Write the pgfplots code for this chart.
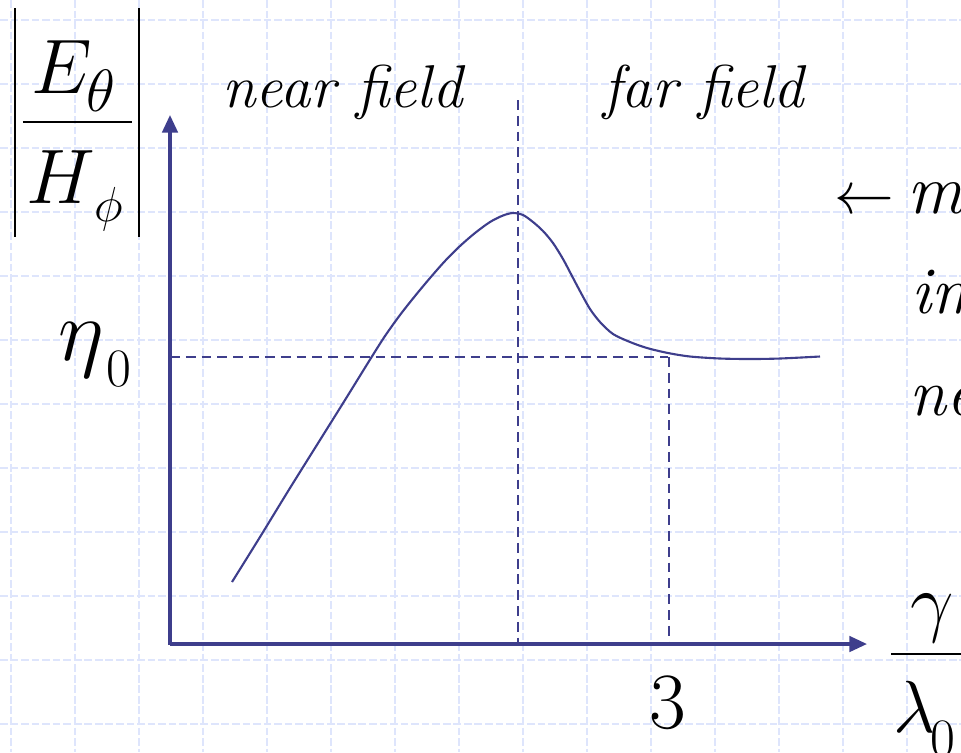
\RequirePackage{fix-cm}
\documentclass[border=0pt]{standalone}
\usepackage{pgfplots}
\pgfplotsset{compat=1.18}
\usetikzlibrary{arrows.meta}
\definecolor{ink}{RGB}{62,62,140}
\definecolor{gridblue}{RGB}{222,229,252}
\newcommand{\fs}[1]{\fontsize{#1}{#1}\selectfont}

\begin{document}
\begin{tikzpicture}
\begin{axis}[
  scale only axis, width=9.61cm, height=7.52cm,
  xmin=0, xmax=961, ymin=0, ymax=752, y dir=reverse,
  axis line style={draw=none}, tick style={draw=none},
  xtick={11,75,...,907}, ytick={20,84,...,724},
  xticklabel={}, yticklabel={},
  grid=major,
  major grid style={gridblue, line width=0.4pt, dash pattern=on 2.2pt off 0.8pt},
  clip=false,
]
\coordinate (c1) at (axis cs:0,0);
\coordinate (c2) at (axis cs:961,752);

% wave impedance versus distance
\addplot[ink, line width=0.6pt, smooth, tension=0.5] coordinates {
  (232,582) (260,537) (290,488) (320,440) (345,400) (371,358) (385,336)
  (400,315) (415,296) (430,278) (445,261) (460,246) (475,233) (490,222)
  (503,215.5) (513,213) (523,215) (533,222) (543,231) (553,243) (563,259)
  (572,276) (581,293) (590,309) (600,322) (613,334) (630,342) (647,348)
  (668,353) (690,356.5) (720,358.5) (750,359) (780,358.5) (820,356.5)
};

% axes
\addplot[ink, line width=0.9pt, -{Triangle[length=5pt,width=4.4pt]}]
  coordinates {(170,645) (170,115)};
\addplot[ink, line width=0.9pt, -{Triangle[length=5pt,width=4.4pt]}]
  coordinates {(169.5,644) (867,644)};

% reference lines
\addplot[ink, line width=0.65pt, dash pattern=on 2.8pt off 1.7pt]
  coordinates {(170,357) (668,357)};
\addplot[ink, line width=0.65pt, dash pattern=on 2.8pt off 1.7pt]
  coordinates {(518,100) (518,644)};
\addplot[ink, line width=0.65pt, dash pattern=on 2.8pt off 1.7pt]
  coordinates {(669,357) (669,644)};

% region labels
\node[anchor=base west, inner sep=0, font=\fs{17.2pt}\itshape] at (axis cs:222,107) {near field};
\node[anchor=base west, inner sep=0, font=\fs{17.2pt}\itshape] at (axis cs:603,107) {far field};

% |E_theta / H_phi|
\draw[black, line width=0.75pt] (axis cs:15,8) -- (axis cs:15,237);
\draw[black, line width=0.75pt] (axis cs:139,8) -- (axis cs:139,237);
\draw[black, line width=0.6pt] (axis cs:23,122) -- (axis cs:132,122);
\node[anchor=base west, inner sep=0, font=\fs{22pt}] at (axis cs:31,93) {$E$};
\node[anchor=base west, inner sep=0, font=\fs{17pt}] at (axis cs:86,111) {$\theta$};
\node[anchor=base west, inner sep=0, font=\fs{22pt}] at (axis cs:26,203) {$H$};
\node[anchor=base west, inner sep=0, font=\fs{14pt}] at (axis cs:94,221) {$\phi$};

% eta_0
\node[anchor=base west, inner sep=0, font=\fs{25pt}] at (axis cs:58,360) {$\eta$};
\node[anchor=base west, inner sep=0, font=\fs{15.4pt}] at (axis cs:106,386) {0};

% tick value 3
\node[anchor=base west, inner sep=0, font=\fs{22.7pt}] at (axis cs:649,728) {3};

% r / lambda_0
\node[anchor=base west, inner sep=0, font=\fs{22pt}] at (axis cs:910,627) {$\gamma$};
\draw[black, line width=0.6pt] (axis cs:891,654) -- (axis cs:975,654);
\node[anchor=base west, inner sep=0, font=\fs{21pt}] at (axis cs:893,732) {$\lambda$};
\node[anchor=base west, inner sep=0, font=\fs{15.4pt}] at (axis cs:930,756) {0};

% side notes
\node[anchor=base west, inner sep=0, font=\fs{17pt}] at (axis cs:834,213) {$\leftarrow$};
\node[anchor=base west, inner sep=0, font=\fs{20pt}\itshape] at (axis cs:907,213) {m};
\node[anchor=base west, inner sep=0, font=\fs{19pt}\itshape] at (axis cs:911,313) {im};
\node[anchor=base west, inner sep=0, font=\fs{19pt}\itshape] at (axis cs:909,415) {ne};
\end{axis}
\pgfresetboundingbox
\path[use as bounding box] (c1) rectangle (c2);
\end{tikzpicture}
\end{document}
